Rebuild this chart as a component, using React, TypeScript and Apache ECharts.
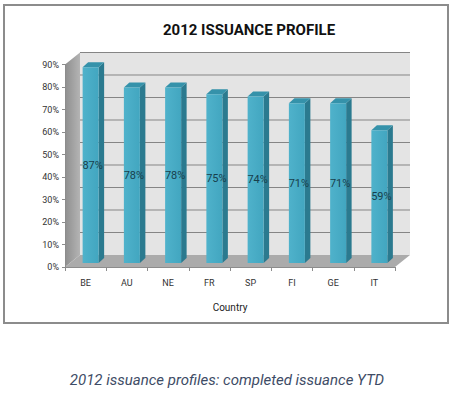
import React, { useEffect, useRef } from "react";
import * as echarts from "echarts";

const categories = ["BE", "AU", "NE", "FR", "SP", "FI", "GE", "IT"];
const values = [87, 78, 78, 75, 74, 71, 71, 59];
const yMax = 90;
const yInterval = 10;
const gridValues = [10, 20, 30, 40, 50, 60, 70, 80, 90];

const DX = 15;
const DY = -12;
const BAR_DX = 5;
const BAR_DY = -4;
const BAR_W = 16;
const SIDE_X = 5.5;
const SIDE_Y = -5;

const FONT = "Roboto, 'Liberation Sans', sans-serif";
const NARROW = "'DejaVu Sans Condensed', Roboto, sans-serif";

export default function App() {
  const ref = useRef<HTMLDivElement>(null);
  useEffect(() => {
    if (!ref.current) return;
    const chart = echarts.init(ref.current, undefined, { renderer: "svg" });
    const option: any = {
      animation: false,
      backgroundColor: "#ffffff",
      title: {
        text: "2012 ISSUANCE PROFILE",
        left: 244,
        top: 17,
        textAlign: "center",
        textStyle: { fontSize: 15, fontWeight: "bold", color: "#111", fontFamily: FONT },
      },
      grid: { left: 65, right: 60, top: 64.5, bottom: 127, containLabel: false },
      xAxis: {
        type: "category",
        data: categories,
        z: 5,
        name: "Country",
        nameLocation: "middle",
        nameGap: 35,
        nameTextStyle: { fontSize: 10, color: "#222", fontFamily: FONT },
        axisLine: { show: true, lineStyle: { color: "#8c8c8c", width: 1 } },
        axisTick: { show: true, alignWithLabel: false, length: 4, lineStyle: { color: "#8c8c8c" } },
        axisLabel: { fontSize: 9, color: "#333", margin: 11, fontFamily: FONT },
        splitLine: { show: false },
      },
      yAxis: {
        type: "value",
        min: 0,
        max: yMax,
        interval: yInterval,
        z: 5,
        axisLine: { show: true, lineStyle: { color: "#8c8c8c", width: 1 } },
        axisTick: { show: true, length: 3, lineStyle: { color: "#8c8c8c" } },
        axisLabel: { fontSize: 9, color: "#333", margin: 6, fontFamily: FONT, formatter: "{value}%" },
        splitLine: { show: false },
      },
      series: [
        {
          type: "custom",
          z: 1,
          silent: true,
          data: [[0, 0]],
          renderItem: (params: any, api: any) => {
            const cs = params.coordSys;
            const x0 = cs.x;
            const x1 = cs.x + cs.width;
            const yT = cs.y;
            const yB = cs.y + cs.height;
            const children: any[] = [];
            children.push({
              type: "rect",
              shape: { x: x0 + DX, y: yT + DY, width: cs.width, height: cs.height },
              style: { fill: "#e4e4e4" },
            });
            gridValues.forEach((v) => {
              const y = api.coord([0, v])[1] + DY;
              children.push({
                type: "line",
                shape: { x1: x0 + DX, y1: y, x2: x1 + DX, y2: y },
                style: { stroke: "#858585", lineWidth: 1 },
              });
            });
            children.push({
              type: "polygon",
              shape: { points: [[x0, yT], [x0 + DX, yT + DY], [x0 + DX, yB + DY], [x0, yB]] },
              style: {
                fill: new echarts.graphic.LinearGradient(0, 0, 1, 0, [
                  { offset: 0, color: "#8e8e8e" },
                  { offset: 1, color: "#b4b4b4" },
                ]),
              },
            });
            children.push({
              type: "polygon",
              shape: { points: [[x0, yB], [x0 + DX, yB + DY], [x1 + DX, yB + DY], [x1, yB]] },
              style: { fill: "#ababab" },
            });
            return { type: "group", children };
          },
        },
        {
          type: "custom",
          z: 3,
          data: values.map((v, i) => [i, v]),
          renderItem: (params: any, api: any) => {
            const idx = api.value(0);
            const v = api.value(1);
            const top = api.coord([idx, v]);
            const base = api.coord([idx, 0]);
            const cx = top[0] + BAR_DX;
            const xl = cx - BAR_W / 2;
            const xr = cx + BAR_W / 2;
            const yt = top[1] + BAR_DY;
            const yb = base[1] + BAR_DY;
            return {
              type: "group",
              children: [
                {
                  type: "polygon",
                  shape: { points: [[xr, yt], [xr + SIDE_X, yt + SIDE_Y], [xr + SIDE_X, yb + SIDE_Y], [xr, yb]] },
                  style: { fill: "#2b7a8f" },
                },
                {
                  type: "polygon",
                  shape: { points: [[xl, yt], [xl + SIDE_X, yt + SIDE_Y], [xr + SIDE_X, yt + SIDE_Y], [xr, yt]] },
                  style: { fill: "#3592aa" },
                },
                {
                  type: "rect",
                  shape: { x: xl, y: yt, width: BAR_W, height: yb - yt },
                  style: {
                    fill: new echarts.graphic.LinearGradient(0, 0, 1, 0, [
                      { offset: 0, color: "#4fb2cb" },
                      { offset: 1, color: "#42a6c0" },
                    ]),
                  },
                },
                {
                  type: "text",
                  style: {
                    x: cx + 2,
                    y: (yt + yb) / 2,
                    text: v + "%",
                    fontSize: 11,
                    fontFamily: FONT,
                    fill: "#183f4c",
                    align: "center",
                    verticalAlign: "middle",
                  },
                },
              ],
            };
          },
        },
      ],
      graphic: [
        {
          type: "rect",
          shape: { x: 4, y: 5, width: 444, height: 318 },
          style: { fill: "none", stroke: "#8c8c8c", lineWidth: 2 },
          silent: true,
        },
        {
          type: "text",
          x: 227,
          y: 380,
          style: {
            text: "2012 issuance profiles: completed issuance YTD",
            fontSize: 15,
            fontStyle: "italic",
            fontFamily: FONT,
            fill: "#3e4c66",
            align: "center",
            verticalAlign: "middle",
          },
        },
      ],
    };
    chart.setOption(option);
    return () => chart.dispose();
  }, []);
  return (
    <div
      ref={ref}
      style={{ position: "fixed", left: 0, top: 0, width: 455, height: 394, background: "#fff" }}
    />
  );
}
